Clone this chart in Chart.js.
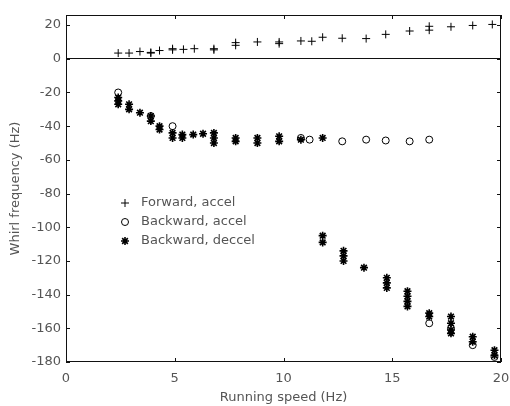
<!DOCTYPE html>
<html>
<head>
<meta charset="utf-8">
<script src="https://cdn.jsdelivr.net/npm/chart.js@4/dist/chart.umd.min.js"></script>
<style>
  html, body { margin: 0; padding: 0; background: #fff; }
  #wrap { width: 510px; height: 406px; }
</style>
</head>
<body>
<div id="wrap"><canvas id="c" width="510" height="406"></canvas></div>
<script>
// Tick labels
const xTicks = [0, 5, 10, 15, 20];
const yTicks = [20, 0, -20, -40, -60, -80, -100, -120, -140, -160, -180];

// Forward whirl, accelerating run
const fwdSpeed = [2.4, 2.9, 3.4, 3.9, 3.9, 4.3, 4.9, 4.9, 5.4, 5.9, 6.8, 6.8, 7.8, 7.8, 8.8, 9.8, 9.8, 10.8, 11.3, 11.8, 12.7, 13.8, 14.7, 15.8, 16.7, 16.7, 17.7, 18.7, 19.6];
const fwdFreq  = [3.4, 3.4, 4.3, 3.8, 3.4, 4.9, 5.3, 6.0, 5.6, 6.0, 6.0, 5.3, 9.6, 8.0, 10.0, 10.0, 9.0, 10.6, 10.4, 12.8, 12.2, 12.0, 14.5, 16.5, 19.3, 17.0, 19.0, 19.8, 20.4];

// Backward whirl, accelerating run
const bwdAccSpeed = [2.4, 3.9, 4.9, 10.8, 11.2, 12.7, 13.8, 14.7, 15.8, 16.7, 16.7, 17.7, 18.7, 19.7];
const bwdAccFreq  = [-20, -34, -40, -47, -48, -49, -48, -48.5, -49, -48, -157, -160, -170, -177];

// Backward whirl, decelerating run
const bwdDecSpeed = [2.4, 2.4, 2.4, 2.9, 2.9, 3.4, 3.9, 3.9, 4.3, 4.3, 4.9, 4.9, 5.35, 5.35, 5.85, 6.3, 6.8, 6.8, 6.8, 7.8, 7.8, 8.8, 8.8, 9.8, 9.8, 10.8, 11.8,
                     11.8, 11.8, 12.76, 12.76, 12.76, 13.7, 14.75, 14.75, 14.75, 15.7, 15.7, 15.7, 15.7, 16.7, 16.7, 17.7, 17.7, 17.7, 17.7, 18.7, 18.7, 19.7, 19.7];
const bwdDecFreq  = [-23, -25, -27, -27, -30, -32, -34, -37, -40, -42, -44, -47, -45, -47, -45, -44.5, -44, -47, -50, -47, -49, -47, -50, -46, -49, -48, -47,
                     -105, -109, -114, -117, -120, -124, -130, -133, -136, -138, -141, -144, -147, -151, -153, -153, -157, -161, -163, -165, -168, -173, -176];

const seriesNames = ['Forward, accel', 'Backward, accel', 'Backward, deccel'];

const toPts = (xs, ys) => xs.map((x, i) => ({ x, y: ys[i] }));

const FONT = { family: '"DejaVu Sans", sans-serif', size: 13 };
const TEXT = '#555';

// Inward ticks on all four sides, box frame and legend inside the axes
const framePlugin = {
  id: 'frame',
  afterDatasetsDraw(chart) {
    const { ctx, chartArea: a, scales } = chart;
    ctx.save();
    ctx.strokeStyle = '#111';
    ctx.lineWidth = 1;
    ctx.strokeRect(a.left + 0.5, a.top + 0.5, a.right - a.left - 1, a.bottom - a.top - 1);
    const tl = 4;
    ctx.beginPath();
    yTicks.forEach(v => {
      const y = Math.round(scales.y.getPixelForValue(v)) + 0.5;
      ctx.moveTo(a.left, y); ctx.lineTo(a.left + tl, y);
      ctx.moveTo(a.right, y); ctx.lineTo(a.right - tl, y);
    });
    xTicks.forEach(v => {
      const x = Math.round(scales.x.getPixelForValue(v)) + 0.5;
      ctx.moveTo(x, a.bottom); ctx.lineTo(x, a.bottom - tl);
      ctx.moveTo(x, a.top); ctx.lineTo(x, a.top + tl);
    });
    ctx.stroke();

    // legend
    const lx = 125, tx = 141, rows = [203, 222, 241];
    ctx.font = `${FONT.size}px ${FONT.family}`;
    ctx.textBaseline = 'middle';
    ctx.textAlign = 'left';
    chart.data.datasets.forEach((ds, i) => {
      ctx.strokeStyle = ds.borderColor;
      ctx.fillStyle = ds.backgroundColor;
      ctx.lineWidth = ds.borderWidth;
      Chart.helpers.drawPoint(ctx, {
        pointStyle: ds.pointStyle, radius: ds.pointRadius, rotation: 0,
        borderWidth: ds.borderWidth
      }, lx, rows[i]);
      ctx.fillStyle = TEXT;
      ctx.fillText(seriesNames[i], tx, rows[i]);
    });
    ctx.restore();
  }
};

new Chart(document.getElementById('c'), {
  type: 'scatter',
  data: {
    datasets: [
      { label: seriesNames[0], data: toPts(fwdSpeed, fwdFreq), pointStyle: 'cross', pointRadius: 4,
        borderColor: '#000', backgroundColor: '#000', borderWidth: 1 },
      { label: seriesNames[1], data: toPts(bwdAccSpeed, bwdAccFreq), pointStyle: 'circle', pointRadius: 3.5,
        borderColor: '#000', backgroundColor: 'rgba(0,0,0,0)', borderWidth: 1 },
      { label: seriesNames[2], data: toPts(bwdDecSpeed, bwdDecFreq), pointStyle: 'star', pointRadius: 4,
        borderColor: '#000', backgroundColor: '#000', borderWidth: 1.6 }
    ]
  },
  options: {
    responsive: false,
    animation: false,
    events: [],
    layout: { padding: { top: 15, right: 9, left: 0, bottom: 0 } },
    plugins: { legend: { display: false }, tooltip: { enabled: false } },
    scales: {
      x: {
        type: 'linear', min: 0, max: 20,
        afterBuildTicks: s => { s.ticks = xTicks.map(v => ({ value: v })); },
        afterFit: s => { s.height = 44; s.paddingLeft = 0; s.paddingRight = 0; },
        grid: { drawOnChartArea: false, drawTicks: false },
        border: { display: false },
        ticks: { color: TEXT, font: FONT, padding: 9, maxRotation: 0 },
        title: { display: true, text: 'Running speed (Hz)', color: TEXT, font: FONT, padding: { top: 0, bottom: 1 } }
      },
      y: {
        type: 'linear', min: -180, max: 26,
        afterBuildTicks: s => { s.ticks = yTicks.map(v => ({ value: v })); },
        afterFit: s => { s.width = 66; s.paddingTop = 0; s.paddingBottom = 0; },
        grid: {
          drawTicks: false,
          color: c => (c.tick && c.tick.value === 0 ? '#111' : 'rgba(0,0,0,0)'),
          lineWidth: 1
        },
        border: { display: false },
        ticks: { color: TEXT, font: FONT, padding: 5 },
        title: { display: true, text: 'Whirl frequency (Hz)', color: TEXT, font: FONT, padding: { top: 8, bottom: 0 } }
      }
    }
  },
  plugins: [framePlugin]
});
</script>
</body>
</html>
